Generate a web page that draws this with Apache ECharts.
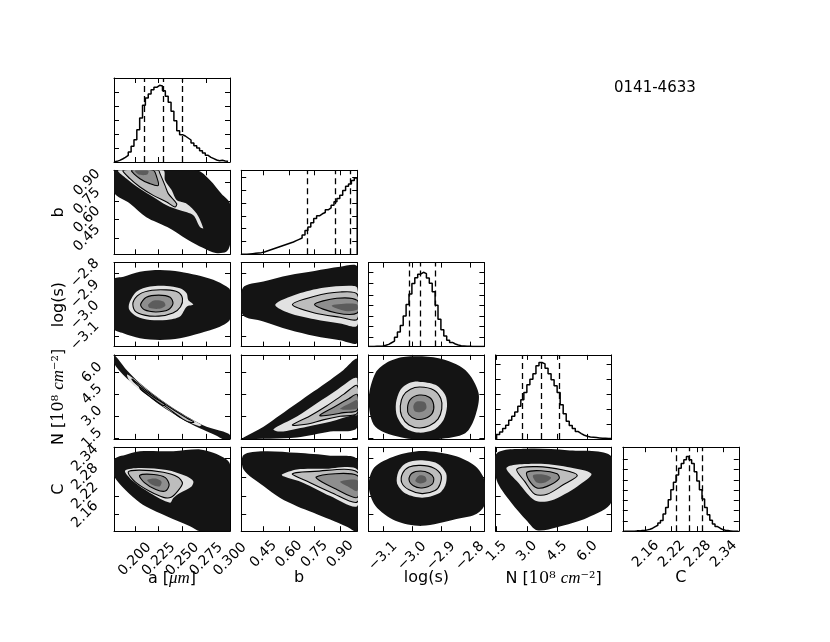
<!DOCTYPE html>
<html><head><meta charset="utf-8">
<script src="https://cdn.jsdelivr.net/npm/echarts@6/dist/echarts.min.js"></script>
<style>html,body{margin:0;padding:0;background:#fff}#c{width:830px;height:642px}</style>
</head><body><div id="c"></div>
<script>
// ---------- axis ranges and ticks ----------
const aRange=[0.178,0.300], bRange=[0.32,1.0], sRange=[-3.15,-2.75], NRange=[1.45,7.2], CRange=[2.107,2.375];
const aTicks=[0.200,0.225,0.250,0.275,0.300], aTickLabels=['0.200','0.225','0.250','0.275','0.300'];
const bTicks=[0.45,0.60,0.75,0.90], bTickLabels=['0.45','0.60','0.75','0.90'];
const sTicks=[-3.1,-3.0,-2.9,-2.8], sTickLabels=['−3.1','−3.0','−2.9','−2.8'];
const NTicks=[1.5,3.0,4.5,6.0], NTickLabels=['1.5','3.0','4.5','6.0'];
const CTicks=[2.16,2.22,2.28,2.34], CTickLabels=['2.16','2.22','2.28','2.34'];
const axisNames=['a [{i|μm}]','b','log(s)','N [{m|10⁸} {i|cm}{m|⁻²}]','C'];
const titleText='0141-4633';

// ---------- 1D histograms ----------
const aHistEdges=[0.178,0.181,0.184,0.187,0.190,0.193,0.196,0.199,0.202,0.205,0.208,0.211,0.214,0.217,0.220,0.223,0.226,0.229,0.232,0.235,0.238,0.241,0.244,0.247,0.250,0.253,0.256,0.259,0.262,0.265,0.268,0.271,0.274,0.277,0.280,0.283,0.286,0.289,0.292,0.295,0.298];
const aHistCounts=[2,5,9,14,20,30,47,67,97,132,170,192,204,217,224,230,228,214,197,179,152,124,94,82,78,72,66,57,49,42,34,27,20,14,10,6,4,5,3,2];
const aQuantiles=[0.2096,0.2264,0.2474];
const aHistYTicks=[42,84,126,168,210];

const bHistEdges=[0.320,0.337,0.354,0.371,0.388,0.405,0.422,0.439,0.456,0.473,0.490,0.507,0.524,0.541,0.558,0.575,0.592,0.609,0.626,0.643,0.660,0.677,0.694,0.711,0.728,0.745,0.762,0.779,0.796,0.813,0.830,0.847,0.864,0.881,0.898,0.915,0.932,0.949,0.966,0.983,1.000];
const bHistCounts=[0,0,1,2,3,4,5,7,10,13,16,19,22,25,28,31,34,37,41,45,49,58,72,82,95,108,116,122,126,134,140,148,158,168,178,192,205,212,222,230];
const bQuantiles=[0.706,0.867,0.956];
const bHistYTicks=[40,78,116,155,193,231];

const sHistEdges=[-3.15,-3.14,-3.13,-3.12,-3.11,-3.10,-3.09,-3.08,-3.07,-3.06,-3.05,-3.04,-3.03,-3.02,-3.01,-3.00,-2.99,-2.98,-2.97,-2.96,-2.95,-2.94,-2.93,-2.92,-2.91,-2.90,-2.89,-2.88,-2.87,-2.86,-2.85,-2.84,-2.83,-2.82,-2.81,-2.80,-2.79,-2.78,-2.77,-2.76,-2.75];
const sHistCounts=[0,0,1,1,2,4,7,12,17,29,45,65,95,130,163,195,213,224,230,226,212,196,170,128,85,52,33,20,13,8,5,3,2,1,1,0,0,0,0,0];
const sQuantiles=[-3.014,-2.968,-2.925];
const sHistYTicks=[30,62,95,127,160,195,230];

const NHistEdges=[1.50,1.65,1.80,1.95,2.10,2.25,2.40,2.55,2.70,2.85,3.00,3.15,3.30,3.45,3.60,3.75,3.90,4.05,4.20,4.35,4.50,4.65,4.80,4.95,5.10,5.25,5.40,5.55,5.70,5.85,6.00,6.15,6.30,6.45,6.60,6.75,6.90,7.05,7.20];
const NHistCounts=[13,21,31,41,56,68,81,98,118,140,163,180,196,220,230,226,213,196,178,160,140,103,76,53,40,31,22,16,11,8,6,5,4,3,2,2,1,1];
const NQuantiles=[2.78,3.69,4.60];
const NHistYTicks=[45,90,135,180,225];

const CHistEdges=[2.110,2.116,2.122,2.128,2.134,2.140,2.146,2.152,2.158,2.164,2.170,2.176,2.182,2.188,2.194,2.200,2.206,2.212,2.218,2.224,2.230,2.236,2.242,2.248,2.254,2.260,2.266,2.272,2.278,2.284,2.290,2.296,2.302,2.308,2.314,2.320,2.326,2.332,2.338,2.344,2.350,2.356,2.362,2.368,2.374];
const CHistCounts=[0,0,0,0,1,1,2,2,4,6,9,14,18,25,32,52,72,95,125,148,170,190,205,216,226,216,205,180,152,125,97,72,50,33,22,14,9,5,3,2,1,0,0,0];
const CQuantiles=[2.2256,2.2564,2.2857];
const CHistYTicks=[31,62,93,124,155,186,217];

// ---------- 2D density outlines (x param, y param) ----------
// b vs a
const ba_cloud=[[0.178,1.0],[0.265,1.0],[0.279,0.92],[0.291,0.81],[0.300,0.73],[0.300,0.40],[0.296,0.34],[0.285,0.33],[0.272,0.37],[0.255,0.44],[0.234,0.54],[0.212,0.62],[0.195,0.73],[0.178,0.82]];
const ba_light=[[0.1826,1.0],[0.2299,1.0],[0.2316,0.92],[0.2386,0.84],[0.2439,0.76],[0.2544,0.73],[0.2649,0.65],[0.2719,0.53],[0.2684,0.54],[0.2614,0.636],[0.2474,0.676],[0.2334,0.717],[0.2193,0.784],[0.2053,0.851],[0.1913,0.932]];
const ba_c1=[[0.1878,1.0],[0.2246,1.0],[0.2264,0.973],[0.2316,0.878],[0.2351,0.811],[0.2439,0.73],[0.2421,0.703],[0.2334,0.743],[0.2193,0.797],[0.2053,0.865],[0.1948,0.932]];
const ba_c2=[[0.1966,1.0],[0.2193,1.0],[0.2229,0.946],[0.2246,0.878],[0.2158,0.892],[0.2053,0.932]];
const ba_core=[[0.200,1.0],[0.214,1.0],[0.213,0.965],[0.204,0.965]];
// log(s) vs a
const sa_cloud=[[0.178,-2.83],[0.188,-2.817],[0.2053,-2.793],[0.2264,-2.785],[0.2474,-2.793],[0.2649,-2.809],[0.2824,-2.832],[0.2964,-2.864],[0.300,-2.88],[0.300,-3.02],[0.2894,-3.055],[0.2684,-3.086],[0.2474,-3.11],[0.2264,-3.118],[0.2053,-3.11],[0.1878,-3.086],[0.178,-3.065]];
const sa_light=[[0.1941,-2.943],[0.2019,-2.888],[0.2159,-2.864],[0.2334,-2.861],[0.2474,-2.872],[0.2544,-2.896],[0.2561,-2.928],[0.2614,-2.95],[0.2544,-2.96],[0.2474,-3.007],[0.2334,-3.023],[0.2159,-3.023],[0.2019,-3.007],[0.1941,-2.975]];
const sa_c1=[[0.198,-2.94],[0.205,-2.90],[0.218,-2.882],[0.233,-2.88],[0.245,-2.89],[0.250,-2.92],[0.248,-2.96],[0.240,-2.99],[0.225,-3.005],[0.210,-3.0],[0.200,-2.98]];
const sa_c2=[[0.206,-2.95],[0.212,-2.915],[0.225,-2.905],[0.237,-2.915],[0.240,-2.945],[0.235,-2.975],[0.222,-2.985],[0.210,-2.975]];
const sa_core=[[0.214,-2.95],[0.220,-2.93],[0.230,-2.935],[0.232,-2.955],[0.225,-2.97],[0.215,-2.965]];
// N vs a
const Na_cloud=[[0.178,7.2],[0.1913,6.17],[0.2053,5.26],[0.2229,4.35],[0.2404,3.55],[0.2579,2.87],[0.2754,2.29],[0.2929,1.95],[0.300,1.72],[0.300,1.45],[0.292,1.45],[0.2859,1.66],[0.2719,2.07],[0.2544,2.63],[0.2369,3.32],[0.2193,4.12],[0.2018,5.03],[0.1878,5.83],[0.178,6.63]];
const Na_light=[[0.192,5.85],[0.215,4.72],[0.235,3.76],[0.255,2.94],[0.270,2.42],[0.268,2.32],[0.255,2.68],[0.235,3.45],[0.215,4.38],[0.195,5.35]];
const Na_c1=[[0.197,5.55],[0.215,4.64],[0.235,3.68],[0.255,2.86],[0.262,2.60],[0.258,2.58],[0.250,2.82],[0.235,3.54],[0.215,4.47],[0.199,5.35]];
const Na_c2=[[0.205,5.0],[0.220,4.3],[0.232,3.8],[0.229,3.75],[0.218,4.25],[0.206,4.85]];
// C vs a
const Ca_cloud=[[0.178,2.336],[0.1913,2.352],[0.2053,2.362],[0.2404,2.362],[0.2684,2.368],[0.2824,2.357],[0.2964,2.336],[0.300,2.32],[0.300,2.107],[0.2684,2.107],[0.2579,2.123],[0.2334,2.155],[0.2053,2.198],[0.178,2.282]];
const Ca_light=[[0.1896,2.300],[0.2053,2.309],[0.2334,2.302],[0.2544,2.282],[0.2614,2.266],[0.2596,2.25],[0.2474,2.229],[0.2404,2.213],[0.2369,2.198],[0.2159,2.229],[0.1983,2.266]];
const Ca_c1=[[0.193,2.296],[0.205,2.302],[0.230,2.295],[0.245,2.28],[0.250,2.26],[0.245,2.235],[0.238,2.215],[0.230,2.215],[0.215,2.235],[0.200,2.265]];
const Ca_c2=[[0.205,2.285],[0.220,2.288],[0.232,2.278],[0.236,2.255],[0.232,2.235],[0.222,2.24],[0.210,2.262]];
const Ca_core=[[0.213,2.27],[0.222,2.275],[0.228,2.265],[0.226,2.25],[0.218,2.255]];
// log(s) vs b
const sb_cloud=[[0.33,-2.87],[0.45,-2.84],[0.60,-2.81],[0.75,-2.79],[0.90,-2.77],[1.0,-2.77],[1.0,-3.13],[0.90,-3.12],[0.75,-3.10],[0.60,-3.07],[0.45,-3.03],[0.33,-3.00]];
const sb_light=[[0.52,-2.95],[0.65,-2.90],[0.80,-2.87],[0.95,-2.86],[1.0,-2.87],[1.0,-3.05],[0.90,-3.04],[0.75,-3.02],[0.60,-2.99]];
const sb_c1=[[0.62,-2.95],[0.75,-2.91],[0.90,-2.89],[1.0,-2.90],[1.0,-3.02],[0.90,-3.01],[0.75,-2.99]];
const sb_c2=[[0.75,-2.95],[0.88,-2.92],[1.0,-2.93],[1.0,-2.99],[0.88,-2.99]];
const sb_core=[[0.85,-2.955],[0.95,-2.945],[1.0,-2.95],[1.0,-2.975],[0.93,-2.98]];
// N vs b
const Nb_cloud=[[0.3337,1.55],[0.4507,2.29],[0.5486,3.09],[0.6465,3.89],[0.7438,4.69],[0.8417,5.49],[0.9197,6.17],[1.0,6.9],[1.0,2.25],[0.8417,1.95],[0.6465,1.55],[0.33,1.45]];
const Nb_light=[[0.5094,2.11],[0.6465,2.98],[0.7634,3.89],[0.881,4.80],[0.978,5.60],[1.0,5.6],[1.0,3.09],[0.978,3.09],[0.8417,2.63],[0.7051,2.29],[0.5486,1.95]];
const Nb_c1=[[0.62,2.4],[0.72,3.0],[0.82,3.7],[0.92,4.5],[1.0,5.1],[1.0,3.2],[0.90,3.0],[0.80,2.75],[0.70,2.45]];
const Nb_c2=[[0.78,3.05],[0.86,3.6],[0.95,4.2],[1.0,4.5],[1.0,3.4],[0.92,3.25],[0.85,3.1]];
const Nb_core=[[0.90,3.5],[0.96,3.9],[1.0,4.1],[1.0,3.55],[0.95,3.45]];
// C vs b
const Cb_cloud=[[0.3337,2.35],[0.4507,2.362],[0.6465,2.357],[0.8417,2.348],[1.0,2.335],[1.0,2.107],[0.9396,2.121],[0.8417,2.144],[0.7438,2.166],[0.6465,2.187],[0.5486,2.213],[0.4507,2.251],[0.3337,2.304]];
const Cb_light=[[0.5586,2.288],[0.6465,2.304],[0.8025,2.306],[1.0,2.304],[1.0,2.187],[0.8417,2.219],[0.6852,2.261],[0.5681,2.282]];
const Cb_c1=[[0.62,2.29],[0.75,2.298],[1.0,2.296],[1.0,2.20],[0.85,2.23],[0.70,2.268]];
const Cb_c2=[[0.76,2.28],[1.0,2.285],[1.0,2.215],[0.88,2.24]];
const Cb_core=[[0.90,2.265],[1.0,2.27],[1.0,2.235],[0.95,2.248]];
// N vs log(s)
const Ns_cloud=[[-3.022,7.08],[-2.908,6.97],[-2.816,6.17],[-2.77,4.58],[-2.782,2.98],[-2.816,1.84],[-2.908,1.45],[-3.022,1.5],[-3.126,2.29],[-3.149,4.12],[-3.126,5.95],[-3.08,6.74]];
const Ns_light=[[-2.977,5.37],[-2.919,5.15],[-2.885,4.46],[-2.879,3.66],[-2.891,2.75],[-2.925,2.07],[-2.977,1.88],[-3.022,2.18],[-3.051,2.98],[-3.055,3.89],[-3.04,4.80],[-3.011,5.26]];
const Ns_c1=[[-2.972,5.0],[-2.925,4.8],[-2.90,4.2],[-2.897,3.5],[-2.91,2.8],[-2.94,2.35],[-2.975,2.2],[-3.01,2.4],[-3.035,3.0],[-3.04,3.7],[-3.03,4.4],[-3.005,4.85]];
const Ns_c2=[[-2.975,4.45],[-2.94,4.3],[-2.925,3.8],[-2.93,3.2],[-2.955,2.85],[-2.985,2.8],[-3.01,3.1],[-3.015,3.6],[-3.005,4.15]];
const Ns_core=[[-2.985,4.0],[-2.955,3.95],[-2.95,3.55],[-2.965,3.3],[-2.99,3.35],[-2.995,3.7]];
// C vs log(s)
const Cs_cloud=[[-3.057,2.347],[-2.965,2.363],[-2.85,2.347],[-2.782,2.315],[-2.75,2.27],[-2.75,2.19],[-2.782,2.16],[-2.85,2.145],[-2.965,2.124],[-3.057,2.140],[-3.126,2.188],[-3.149,2.251],[-3.13,2.31]];
const Cs_light=[[-2.971,2.333],[-2.913,2.323],[-2.882,2.291],[-2.885,2.253],[-2.908,2.227],[-2.965,2.214],[-3.022,2.227],[-3.051,2.259],[-3.047,2.296],[-3.022,2.323]];
const Cs_c1=[[-2.97,2.317],[-2.925,2.309],[-2.90,2.287],[-2.903,2.257],[-2.92,2.237],[-2.965,2.227],[-3.01,2.239],[-3.035,2.262],[-3.032,2.292],[-3.01,2.312]];
const Cs_c2=[[-2.97,2.299],[-2.94,2.292],[-2.925,2.277],[-2.93,2.257],[-2.965,2.245],[-2.995,2.252],[-3.01,2.272],[-3.0,2.292]];
const Cs_core=[[-2.975,2.285],[-2.955,2.282],[-2.95,2.267],[-2.97,2.259],[-2.988,2.267]];
// C vs N
const CN_cloud=[[1.5,2.355],[3.0,2.37],[5.0,2.365],[7.2,2.345],[7.2,2.20],[6.0,2.15],[4.5,2.12],[3.5,2.11],[3.0,2.14],[2.2,2.20],[1.5,2.27]];
const CN_light=[[2.0,2.31],[3.5,2.322],[5.0,2.312],[6.2,2.29],[5.5,2.25],[4.2,2.205],[3.4,2.205],[2.6,2.26]];
const CN_c1=[[2.5,2.305],[3.5,2.313],[4.8,2.302],[5.5,2.285],[4.8,2.255],[4.0,2.225],[3.4,2.225],[2.9,2.265]];
const CN_c2=[[3.0,2.295],[3.7,2.30],[4.5,2.29],[4.6,2.275],[4.0,2.25],[3.5,2.245],[3.1,2.27]];
const CN_core=[[3.3,2.285],[3.8,2.288],[4.2,2.278],[3.9,2.262],[3.5,2.262]];

// ---------- assembly ----------
const ranges=[aRange,bRange,sRange,NRange,CRange];
const ticks=[aTicks,bTicks,sTicks,NTicks,CTicks];
const tickLabels=[aTickLabels,bTickLabels,sTickLabels,NTickLabels,CTickLabels];
const hists=[
 {edges:aHistEdges,counts:aHistCounts,q:aQuantiles,yt:aHistYTicks,ymax:252},
 {edges:bHistEdges,counts:bHistCounts,q:bQuantiles,yt:bHistYTicks,ymax:253},
 {edges:sHistEdges,counts:sHistCounts,q:sQuantiles,yt:sHistYTicks,ymax:260},
 {edges:NHistEdges,counts:NHistCounts,q:NQuantiles,yt:NHistYTicks,ymax:253},
 {edges:CHistEdges,counts:CHistCounts,q:CQuantiles,yt:CHistYTicks,ymax:254}
];
const panels={
 '1,0':[ba_cloud,ba_light,ba_c1,ba_c2,ba_core],
 '2,0':[sa_cloud,sa_light,sa_c1,sa_c2,sa_core],
 '3,0':[Na_cloud,Na_light,Na_c1,Na_c2,null],
 '4,0':[Ca_cloud,Ca_light,Ca_c1,Ca_c2,Ca_core],
 '2,1':[sb_cloud,sb_light,sb_c1,sb_c2,sb_core],
 '3,1':[Nb_cloud,Nb_light,Nb_c1,Nb_c2,Nb_core],
 '4,1':[Cb_cloud,Cb_light,Cb_c1,Cb_c2,Cb_core],
 '3,2':[Ns_cloud,Ns_light,Ns_c1,Ns_c2,Ns_core],
 '4,2':[Cs_cloud,Cs_light,Cs_c1,Cs_c2,Cs_core],
 '4,3':[CN_cloud,CN_light,CN_c1,CN_c2,CN_core]
};
const layerStyle=[
 {fill:'#141414',stroke:null,lw:0},
 {fill:'#e2e2e2',stroke:null,lw:0},
 {fill:'#bdbdbd',stroke:'#000',lw:1.1},
 {fill:'#8e8e8e',stroke:'#000',lw:1.1},
 {fill:'#5c5c5c',stroke:null,lw:0}
];

const FONT='DejaVu Sans';
const TICKFS=14;
const xLabelMargin=[28,23,25,20,23];
const yLabelMargin=[27,27,29,22,29];
const rich={
 i:{fontFamily:'Liberation Serif',fontStyle:'italic',fontSize:17,color:'#000'},
 m:{fontFamily:'DejaVu Serif',fontSize:16,color:'#000'}
};
function fmt(p,v){
  const t=ticks[p];
  for(let k=0;k<t.length;k++){ if(Math.abs(t[k]-v)<1e-9) return tickLabels[p][k]; }
  return '';
}
const LEFT0=114, DX=127.2, TOP0=78, DY=92.3, W=116, H=84;
const grids=[], xAxes=[], yAxes=[], series=[];

function baseAxis(g,pos,min,max,tv){
  return {type:'value',gridIndex:g,position:pos,min:min,max:max,
    axisLine:{show:true,onZero:false,lineStyle:{color:'#000',width:1}},
    axisTick:{show:true,inside:true,length:5,customValues:tv,lineStyle:{color:'#000',width:1}},
    axisLabel:{show:false},splitLine:{show:false}};
}
function labelCfg(p,values,margin){
  return {show:true,customValues:values,rotate:45,align:'center',verticalAlign:'middle',
    showMinLabel:true,showMaxLabel:true,hideOverlap:false,
    margin:margin,formatter:(v)=>fmt(p,v),fontFamily:FONT,fontSize:TICKFS,color:'#000'};
}

for(let r=0;r<5;r++){
  for(let c=0;c<=r;c++){
    const g=grids.length;
    grids.push({left:LEFT0+DX*c,top:TOP0+DY*r,width:W,height:H,containLabel:false});
    const xb=baseAxis(g,'bottom',ranges[c][0],ranges[c][1],ticks[c]);
    if(r===4){
      xb.axisLabel=labelCfg(c,ticks[c],xLabelMargin[c]);
      xb.name=axisNames[c]; xb.nameLocation='middle'; xb.nameGap=39; xb.nameMoveOverlap=false;
      xb.nameTextStyle={fontFamily:FONT,fontSize:16,color:'#000',verticalAlign:'top',rich:rich};
    }
    const xi=xAxes.length; xAxes.push(xb);
    xAxes.push(baseAxis(g,'top',ranges[c][0],ranges[c][1],ticks[c]));
    let yl, yr, yExtra=null;
    if(r===c){
      const h=hists[c];
      yl=baseAxis(g,'left',0,h.ymax,h.yt); yr=baseAxis(g,'right',0,h.ymax,h.yt);
    } else {
      yl=baseAxis(g,'left',ranges[r][0],ranges[r][1],ticks[r]);
      yr=baseAxis(g,'right',ranges[r][0],ranges[r][1],ticks[r]);
      if(c===0){
        // labels split over two coincident left axes so that none gets dropped as overlapping
        const even=ticks[r].filter((_,k)=>k%2===0), odd=ticks[r].filter((_,k)=>k%2===1);
        yl.axisLabel=labelCfg(r,even,yLabelMargin[r]);
        yl.name=axisNames[r]; yl.nameLocation='middle'; yl.nameGap=47; yl.nameRotate=90; yl.nameMoveOverlap=false;
        yl.nameTextStyle={fontFamily:FONT,fontSize:16,color:'#000',rich:rich};
        yExtra={type:'value',gridIndex:g,position:'left',min:ranges[r][0],max:ranges[r][1],
          axisLine:{show:false},axisTick:{show:false},splitLine:{show:false},
          axisLabel:labelCfg(r,odd,yLabelMargin[r])};
      }
    }
    const yi=yAxes.length; yAxes.push(yl); yAxes.push(yr);
    if(yExtra) yAxes.push(yExtra);

    if(r===c){
      const h=hists[c];
      const pts=[[h.edges[0],0]];
      for(let k=0;k<h.counts.length;k++) pts.push([h.edges[k],h.counts[k]]);
      pts.push([h.edges[h.counts.length],h.counts[h.counts.length-1]]);
      pts.push([h.edges[h.counts.length],0]);
      series.push({type:'line',xAxisIndex:xi,yAxisIndex:yi,data:pts,step:'end',symbol:'none',
        lineStyle:{color:'#000',width:1.5},clip:true,silent:true,
        markLine:{silent:true,symbol:['none','none'],label:{show:false},
          lineStyle:{color:'#000',width:1.3,type:[6,4]},data:h.q.map(v=>({xAxis:v}))}});
    } else {
      const layers=panels[r+','+c];
      const items=[];
      layers.forEach((L,k)=>{ if(L) items.push({pts:L,st:layerStyle[k]}); });
      series.push({type:'custom',xAxisIndex:xi,yAxisIndex:yi,clip:true,silent:true,
        data:items.map((_,k)=>[k]),
        renderItem:function(params,api){
          const it=items[params.dataIndex];
          const pts=it.pts.map(p=>api.coord(p));
          return {type:'polygon',shape:{points:pts,smooth:0.3},
            style:{fill:it.st.fill,stroke:it.st.stroke,lineWidth:it.st.lw}};
        }});
    }
  }
}

const chart=echarts.init(document.getElementById('c'),null,{renderer:'canvas'});
chart.setOption({
  animation:false,backgroundColor:'#fff',
  grid:grids,xAxis:xAxes,yAxis:yAxes,series:series,
  graphic:[{type:'text',left:614,top:81,style:{text:titleText,fontFamily:FONT,fontSize:15,fill:'#000'}}]
});
</script></body></html>
